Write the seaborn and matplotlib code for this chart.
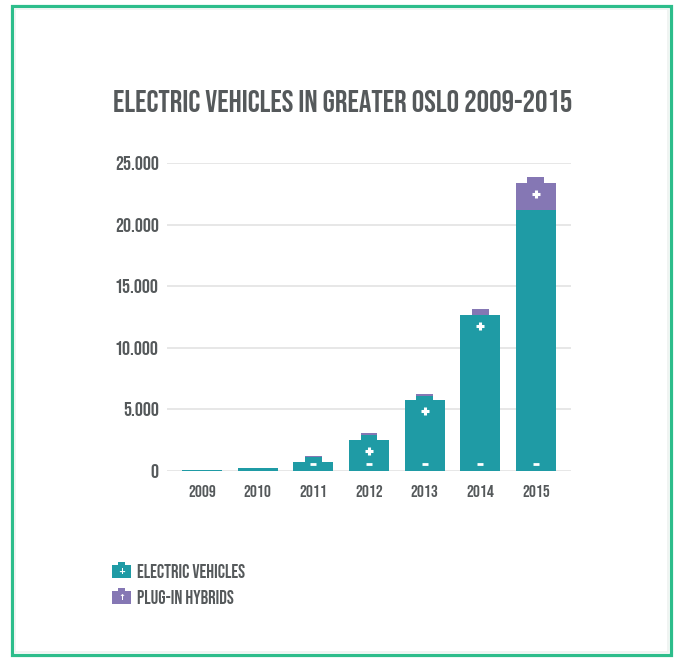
import numpy as np
import pandas as pd
import matplotlib
matplotlib.use("Agg")
import matplotlib.pyplot as plt
import matplotlib.transforms as mtransforms
from matplotlib.patches import Rectangle
import seaborn as sns

# ---- data ----
years = ["2009", "2010", "2011", "2012", "2013", "2014", "2015"]
electric_vehicles = [120, 280, 700, 2550, 5750, 12650, 21200]
plug_in_hybrids = [0, 0, 80, 120, 180, 500, 2700]
y_ticks = [0, 5000, 10000, 15000, 20000, 25000]
y_tick_labels = ["0", "5.000", "10.000", "15.000", "20.000", "25.000"]
title = "ELECTRIC VEHICLES IN GREATER OSLO 2009-2015"
legend_labels = ["ELECTRIC VEHICLES", "PLUG-IN HYBRIDS"]

TEAL = "#1f9ba5"
PURPLE = "#8577b4"
GREEN = "#2dbd8b"
GRAY = "#55595b"
GRID = "#e3e3e3"
FONT = ["Bebas Neue", "DejaVu Sans"]

sns.set_theme(style="white")
plt.rcParams["font.family"] = FONT

W, H = 677, 658
fig = plt.figure(figsize=(W / 100, H / 100), dpi=100)
fig.patch.set_facecolor("white")

def fx(x):
    return x / W

def fy(y):
    return 1 - y / H

ax_l, ax_r, ax_t, ax_b = 167, 571, 163, 471
ax = fig.add_axes([fx(ax_l), fy(ax_b), (ax_r - ax_l) / W, (ax_b - ax_t) / H])

ev = np.array(electric_vehicles, dtype=float)
ph = np.array(plug_in_hybrids, dtype=float)
CAP = 500.0
wide_ph = np.clip(ph - CAP, 0, None)
body_top = ev + wide_ph
cap_purple = np.minimum(ph, CAP)
cap_top = np.where(ph > 0, body_top + CAP, 0)
cap_teal_top = np.where(ph > 0, body_top + CAP - cap_purple, 0)

df = pd.DataFrame({
    "year": years,
    "ev": ev,
    "body_top": body_top,
    "cap_top": cap_top,
    "cap_teal_top": cap_teal_top,
})

BAR_W = 40 / 55.7
CAP_W = 17 / 55.7
kw = dict(order=years, saturation=1, linewidth=0, ax=ax, errorbar=None)
sns.barplot(data=df, x="year", y="cap_top", color=PURPLE, width=CAP_W, **kw)
sns.barplot(data=df, x="year", y="cap_teal_top", color=TEAL, width=CAP_W, **kw)
sns.barplot(data=df, x="year", y="body_top", color=PURPLE, width=BAR_W, **kw)
sns.barplot(data=df, x="year", y="ev", color=TEAL, width=BAR_W, **kw)

ax.set_xlim(-0.63, len(years) - 1 + 0.63)
ax.set_ylim(0, 25000)
ax.set_yticks(y_ticks)
ax.set_yticklabels(y_tick_labels)
ax.set_xlabel("")
ax.set_ylabel("")
for s in ax.spines.values():
    s.set_visible(False)
ax.grid(False)
for t in y_ticks:
    ax.axhline(t, color=GRID, lw=1.2, zorder=0)
ax.tick_params(axis="y", length=0, pad=6, labelsize=14.5, labelcolor=GRAY)
ax.tick_params(axis="x", length=0, pad=10, labelsize=12.5, labelcolor=GRAY)
ax.set_axisbelow(True)

# battery symbols (+ near top, - near bottom)
px_per_unit = (ax_b - ax_t) / 25000.0
plus_tr = mtransforms.offset_copy(ax.transData, fig=fig, x=0, y=-11, units="dots")
minus_tr = mtransforms.offset_copy(ax.transData, fig=fig, x=0, y=7, units="dots")
for i in range(len(years)):
    h_px = body_top[i] * px_per_unit
    if h_px > 25:
        ax.plot([i], [body_top[i]], marker="+", ms=6, mew=2.2, color="white",
                transform=plus_tr, zorder=5)
    if h_px > 6:
        ax.plot([i], [0], marker="_", ms=4.5, mew=2.0, color="white",
                transform=minus_tr, zorder=5)

# title
fig.text(fx(113), fy(101), title, ha="left", va="center", fontsize=22.5,
         color=GRAY)

# legend
for k, (lab, col) in enumerate(zip(legend_labels, [TEAL, PURPLE])):
    yc = 571 + k * 26
    fig.add_artist(Rectangle((fx(112), fy(yc + 7)), 19 / W, 13 / H,
                             transform=fig.transFigure, color=col, lw=0))
    fig.add_artist(Rectangle((fx(118), fy(yc - 6)), 7 / W, 3 / H,
                             transform=fig.transFigure, color=col, lw=0))
    fig.text(fx(121.5), fy(yc + 0.5), "+" if k == 0 else "↑", ha="center", va="center",
             fontsize=6, color="white", fontweight="bold", family=["DejaVu Sans"])
    fig.text(fx(137), fy(yc), lab, ha="left", va="center", fontsize=13.5,
             color=GRAY)

# frame
fig.add_artist(Rectangle((fx(12), fy(655)), (671 - 12) / W, (655 - 6) / H,
                         transform=fig.transFigure, fill=False,
                         edgecolor=GREEN, lw=2.3))
fig.add_artist(Rectangle((fx(15), fy(652)), (668 - 15) / W, (652 - 9) / H,
                         transform=fig.transFigure, fill=False,
                         edgecolor="#eef2f0", lw=1.2))

fig.savefig("out.png", dpi=100)
